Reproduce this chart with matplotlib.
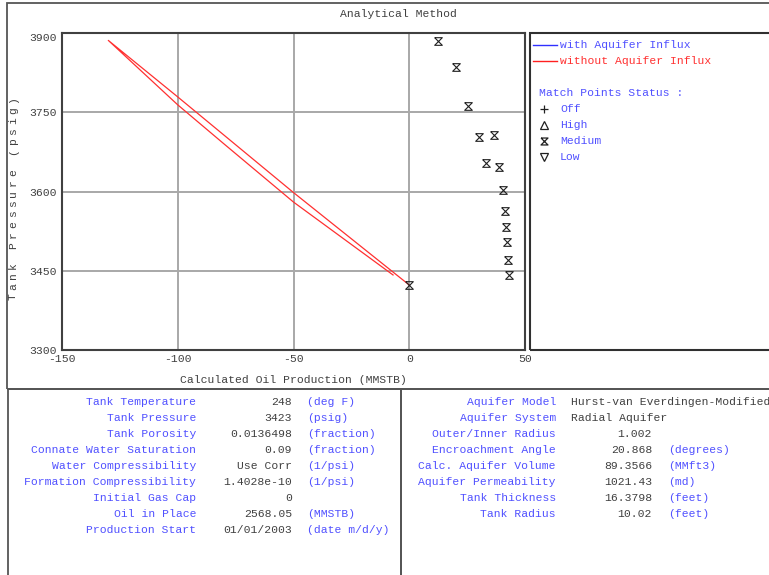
import numpy as np
import matplotlib.pyplot as plt
from matplotlib.patches import Rectangle
from matplotlib.lines import Line2D
from matplotlib.path import Path

# red curve (without aquifer influx): goes up one branch and comes back down the other
curve_x = [0, -50, -100, -130, -100, -80, -50, -7]
curve_y = [3423, 3598, 3779, 3886, 3764, 3690, 3580, 3442]

# match points (status Medium)
match_x = [12.4, 20.3, 25.5, 30.0, 36.4, 33.2, 38.6, 40.4, 41.2, 42.0, 42.3, 42.7, 42.9, 0.0]
match_y = [3884, 3835, 3761, 3704, 3706, 3654, 3647, 3602, 3564, 3532, 3504, 3471, 3442, 3423]

x_ticks = [-150, -100, -50, 0, 50]
y_ticks = [3300, 3450, 3600, 3750, 3900]

series_names = ['with Aquifer Influx', 'without Aquifer Influx']
status_names = ['Off', 'High', 'Medium', 'Low']

left_labels = ['Tank Temperature', 'Tank Pressure', 'Tank Porosity', 'Connate Water Saturation',
               'Water Compressibility', 'Formation Compressibility', 'Initial Gas Cap',
               'Oil in Place', 'Production Start']
left_values = ['248', '3423', '0.0136498', '0.09', 'Use Corr', '1.4028e-10', '0',
               '2568.05', '01/01/2003']
left_units = ['(deg F)', '(psig)', '(fraction)', '(fraction)', '(1/psi)', '(1/psi)', '',
              '(MMSTB)', '(date m/d/y)']

right_labels = ['Aquifer Model', 'Aquifer System', 'Outer/Inner Radius', 'Encroachment Angle',
                'Calc. Aquifer Volume', 'Aquifer Permeability', 'Tank Thickness', 'Tank Radius']
right_values = ['Hurst-van Everdingen-Modified', 'Radial Aquifer', '1.002', '20.868',
                '89.3566', '1021.43', '16.3798', '10.02']
right_units = ['', '', '', '(degrees)', '(MMft3)', '(md)', '(feet)', '(feet)']

W, H = 769, 575
FONT = 'Liberation Mono'
FS = 8.2
BLUE = '#5050ff'
RED = '#ff3030'
GRAY = '#404040'

plt.rcParams['font.family'] = FONT
plt.rcParams['axes.unicode_minus'] = False


def fx(px):
    return px / W


def fy(py):
    return 1 - py / H


hourglass = Path([(-1, 1), (1, 1), (-1, -1), (1, -1), (-1, 1)],
                 [Path.MOVETO, Path.LINETO, Path.LINETO, Path.LINETO, Path.LINETO])

fig = plt.figure(figsize=(W / 100, H / 100), dpi=100)

# frames
fig.add_artist(Rectangle((fx(7), fy(389)), fx(800) - fx(7), fy(3) - fy(389),
                         transform=fig.transFigure, fill=False, ec='#555555', lw=1.3))
fig.add_artist(Rectangle((fx(8), fy(600)), fx(401) - fx(8), fy(389) - fy(600),
                         transform=fig.transFigure, fill=False, ec='#555555', lw=1.3))
fig.add_artist(Rectangle((fx(401), fy(600)), fx(800) - fx(401), fy(389) - fy(600),
                         transform=fig.transFigure, fill=False, ec='#555555', lw=1.3))
fig.add_artist(Rectangle((fx(530), fy(350)), fx(800) - fx(530), fy(33) - fy(350),
                         transform=fig.transFigure, fill=False, ec='#303030', lw=1.5))

ax = fig.add_axes([fx(62), fy(350), fx(525) - fx(62), fy(33) - fy(350)])
ax.plot(curve_x, curve_y, color=RED, lw=0.9)
ax.plot(match_x, match_y, ls='none', marker=hourglass, ms=5.5, mfc='none',
        mec='#202020', mew=0.8, clip_on=False)

ax.set_xlim(-150, 50)
ax.set_ylim(3300, 3900)
ax.set_xticks(x_ticks)
ax.set_yticks(y_ticks)
ax.grid(True, color='#a8a8a8', lw=1.4)
ax.set_axisbelow(True)
for s in ax.spines.values():
    s.set_color('#404040')
    s.set_linewidth(1.5)
ax.tick_params(length=0, labelsize=FS, colors=GRAY)
ax.tick_params(axis='x', pad=3)
ax.tick_params(axis='y', pad=4)
ax.yaxis.get_major_ticks()[-1].label1.set_verticalalignment('top')

fig.text(fx(398), fy(14), 'Analytical Method', ha='center', va='center', fontsize=FS, color=GRAY)
fig.text(fx(293), fy(380), 'Calculated Oil Production (MMSTB)', ha='center', va='center',
         fontsize=FS, color=GRAY)

# spaced-out y label
ylabel = 'Tank Pressure (psig)'
y0, y1 = 297, 100
step = (y0 - y1) / (len(ylabel) - 1)
for i, ch in enumerate(ylabel):
    fig.text(fx(13), fy(y0 - i * step), ch, rotation=90, ha='center', va='center',
             fontsize=FS, color=GRAY)

# legend panel
for name, c, py in zip(series_names, ['#3030ff', '#ff2020'], [45, 61]):
    fig.add_artist(Line2D([fx(533), fx(557)], [fy(py), fy(py)], color=c, lw=1.0,
                          transform=fig.transFigure))
    fig.text(fx(560), fy(py), name, ha='left', va='center', fontsize=FS,
             color=BLUE if c == '#3030ff' else RED)

fig.text(fx(539), fy(93), 'Match Points Status :', ha='left', va='center', fontsize=FS, color=BLUE)
status_markers = ['+', '^', hourglass, 'v']
status_sizes = [6, 5.5, 5, 5.5]
for i, (name, m, ms) in enumerate(zip(status_names, status_markers, status_sizes)):
    py = 109 + 16 * i
    fig.add_artist(Line2D([fx(544)], [fy(py)], ls='none', marker=m, ms=ms, mfc='none',
                          mec='#202020', mew=0.9, transform=fig.transFigure))
    fig.text(fx(560), fy(py), name, ha='left', va='center', fontsize=FS, color=BLUE)

# bottom tables
for i, (lab, val, unit) in enumerate(zip(left_labels, left_values, left_units)):
    py = 402 + 16 * i
    fig.text(fx(196), fy(py), lab, ha='right', va='center', fontsize=FS, color=BLUE)
    fig.text(fx(292), fy(py), val, ha='right', va='center', fontsize=FS, color=GRAY)
    fig.text(fx(307), fy(py), unit, ha='left', va='center', fontsize=FS, color=BLUE)

for i, (lab, val, unit) in enumerate(zip(right_labels, right_values, right_units)):
    py = 402 + 16 * i
    fig.text(fx(556), fy(py), lab, ha='right', va='center', fontsize=FS, color=BLUE)
    if i < 2:
        fig.text(fx(571), fy(py), val, ha='left', va='center', fontsize=FS, color=GRAY)
    else:
        fig.text(fx(652), fy(py), val, ha='right', va='center', fontsize=FS, color=GRAY)
    fig.text(fx(668), fy(py), unit, ha='left', va='center', fontsize=FS, color=BLUE)

fig.savefig('out.png', dpi=100)
